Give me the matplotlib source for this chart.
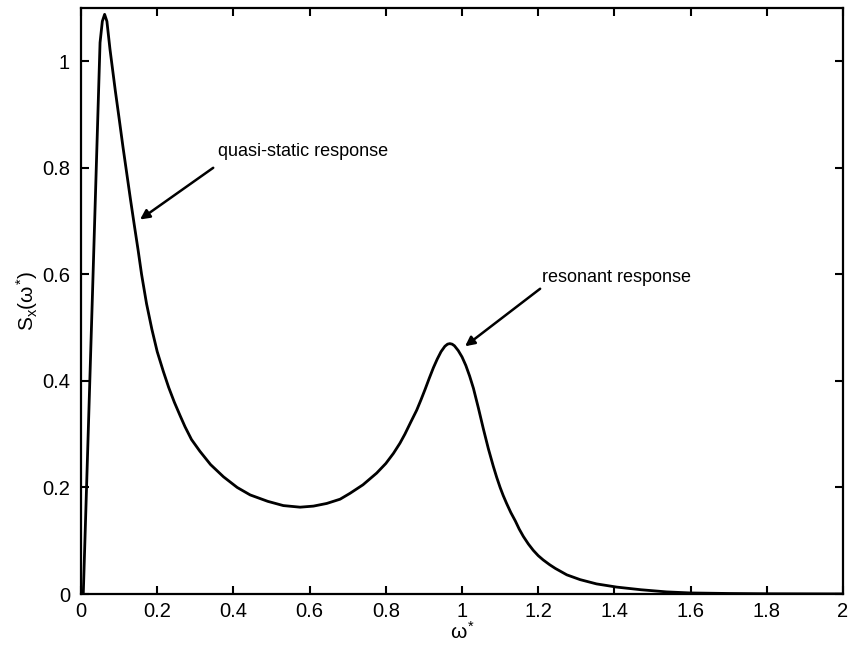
import numpy as np
import matplotlib
matplotlib.use('Agg')
import matplotlib.pyplot as plt

plt.rcParams['font.family'] = ['Liberation Sans', 'DejaVu Sans']
plt.rcParams['mathtext.fontset'] = 'custom'
plt.rcParams['mathtext.rm'] = 'Liberation Sans'
plt.rcParams['mathtext.it'] = 'Liberation Sans'

# response spectrum S_x(w*) versus normalised frequency w*
omega = [0.006, 0.03, 0.05, 0.056, 0.062, 0.068, 0.076, 0.09, 0.10, 0.11,
         0.12, 0.13, 0.14, 0.15, 0.159, 0.172, 0.186, 0.20, 0.216, 0.23,
         0.245, 0.26, 0.273, 0.29, 0.312, 0.34, 0.374, 0.41, 0.444, 0.49,
         0.531, 0.575, 0.61, 0.645, 0.68, 0.706, 0.74, 0.776, 0.80, 0.82,
         0.837, 0.85, 0.865, 0.881, 0.892, 0.903, 0.914, 0.925, 0.935, 0.945,
         0.955, 0.962, 0.968, 0.974, 0.980, 0.990, 1.0, 1.01, 1.02, 1.030,
         1.043, 1.056, 1.069, 1.082, 1.091, 1.10, 1.108, 1.117, 1.128, 1.14,
         1.15, 1.161, 1.174, 1.187, 1.20, 1.213, 1.23, 1.245, 1.26, 1.275,
         1.31, 1.353, 1.406, 1.47, 1.537, 1.6, 1.7, 1.8, 2.0]
S_x = [0.0, 0.56, 1.035, 1.075, 1.088, 1.075, 1.023, 0.945, 0.893, 0.840,
       0.790, 0.740, 0.692, 0.645, 0.600, 0.545, 0.497, 0.455, 0.418, 0.388,
       0.360, 0.335, 0.314, 0.290, 0.268, 0.243, 0.220, 0.200, 0.186, 0.174,
       0.166, 0.163, 0.165, 0.170, 0.178, 0.189, 0.205, 0.227, 0.245, 0.264,
       0.283, 0.300, 0.322, 0.345, 0.364, 0.384, 0.405, 0.425, 0.441, 0.455,
       0.465, 0.469, 0.470, 0.469, 0.466, 0.457, 0.445, 0.429, 0.409, 0.386,
       0.349, 0.310, 0.273, 0.240, 0.219, 0.200, 0.185, 0.170, 0.153, 0.137,
       0.122, 0.108, 0.094, 0.082, 0.072, 0.064, 0.055, 0.048, 0.042, 0.036,
       0.027, 0.019, 0.013, 0.008, 0.004, 0.002, 0.001, 0.0005, 0.0002]

xticks = [0, 0.2, 0.4, 0.6, 0.8, 1, 1.2, 1.4, 1.6, 1.8, 2]
xticklabels = ['0', '0.2', '0.4', '0.6', '0.8', '1', '1.2', '1.4', '1.6', '1.8', '2']
yticks = [0, 0.2, 0.4, 0.6, 0.8, 1]
yticklabels = ['0', '0.2', '0.4', '0.6', '0.8', '1']

fig = plt.figure(figsize=(8.49, 6.48), dpi=100)
ax = fig.add_axes([0.0954, 0.0833, 0.8976, 0.9044])

ax.plot(omega, S_x, color='black', linewidth=2.0, solid_joinstyle='round')

ax.set_xlim(0, 2)
ax.set_ylim(0, 1.1)
ax.set_xticks(xticks)
ax.set_xticklabels(xticklabels)
ax.set_yticks(yticks)
ax.set_yticklabels(yticklabels)
ax.tick_params(direction='in', length=6, width=1.5, labelsize=14.5,
               top=True, right=True)
ax.tick_params(axis='y', pad=8)
ax.tick_params(axis='x', pad=6)
for sp in ax.spines.values():
    sp.set_linewidth(1.6)

ax.set_xlabel(r'$\omega^{*}$', fontsize=15, labelpad=0)
ax.set_ylabel(r'S$_x$($\omega^{*}$)', fontsize=15, labelpad=1)

arrow = dict(arrowstyle='-|>', color='black', lw=1.8, mutation_scale=14,
             shrinkA=0, shrinkB=0)
ax.annotate('', xy=(0.155, 0.703), xytext=(0.347, 0.800), arrowprops=arrow)
ax.text(0.36, 0.83, 'quasi-static response', fontsize=13, ha='left', va='center')
ax.annotate('', xy=(1.008, 0.465), xytext=(1.205, 0.573), arrowprops=arrow)
ax.text(1.209, 0.594, 'resonant response', fontsize=13, ha='left', va='center')

fig.savefig('out.png', dpi=100)
